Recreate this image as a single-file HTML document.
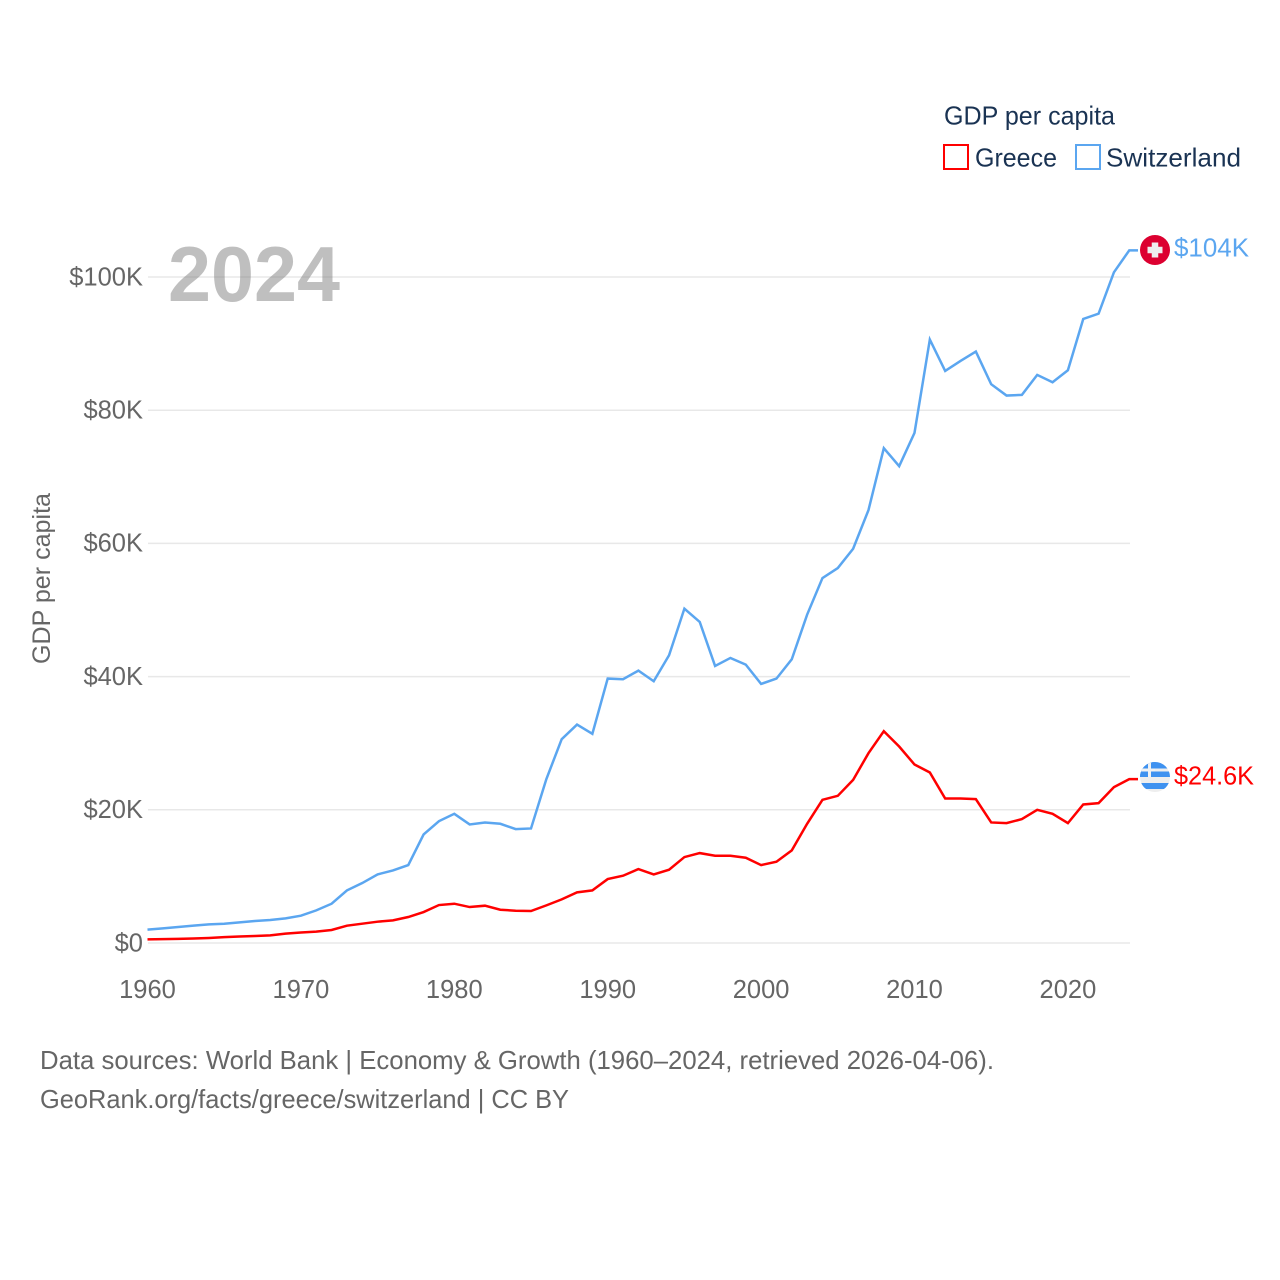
<!DOCTYPE html>
<html lang="en">
<head>
<meta charset="utf-8">
<title>GDP per capita: Greece and Switzerland</title>
<style>
  html, body { margin: 0; padding: 0; background: #fff; }
  svg { display: block; font-family: "Liberation Sans", sans-serif; }
</style>
</head>
<body>
<svg id="chart" xmlns="http://www.w3.org/2000/svg" width="1280" height="1280" viewBox="0 0 1280 1280">
  <defs>
    <clipPath id="flag-clip-gr"><circle cx="1155" cy="777" r="15"/></clipPath>
  </defs>
  <rect x="0" y="0" width="1280" height="1280" fill="#ffffff"/>
  <g id="grid"></g>
  <text x="168" y="301" font-size="78" font-weight="700" fill="#808080" fill-opacity="0.5" textLength="172" lengthAdjust="spacingAndGlyphs">2024</text>
  <g id="y-ticks"></g>
  <g id="x-ticks"></g>
  <text transform="translate(50,578.5) rotate(-90)" text-anchor="middle" font-size="25" fill="#666666" textLength="171" lengthAdjust="spacingAndGlyphs">GDP per capita</text>
  <g id="series"></g>

  <g>
    <circle cx="1155" cy="250" r="15" fill="#dc0030"/>
    <rect x="1151.75" y="242.5" width="6.5" height="15" fill="#eeeeee"/>
    <rect x="1147.5" y="246.75" width="15" height="6.5" fill="#eeeeee"/>
  </g>
  <g clip-path="url(#flag-clip-gr)">
    <rect x="1140" y="762" width="30" height="30" fill="#eeeeee"/>
    <rect x="1140" y="762" width="30" height="6.5" fill="#3f92f0"/>
    <rect x="1140" y="771.5" width="30" height="5.5" fill="#3f92f0"/>
    <rect x="1140" y="783" width="30" height="6" fill="#3f92f0"/>
    <rect x="1140" y="762" width="15" height="15" fill="#3f92f0"/>
    <rect x="1148" y="762" width="3" height="15" fill="#f2f2f2"/>
    <rect x="1140" y="768.5" width="15" height="3" fill="#f2f2f2"/>
  </g>

  <text x="1174" y="256.5" font-size="26" fill="#5ba6f0" textLength="75" lengthAdjust="spacingAndGlyphs">$104K</text>
  <text x="1174" y="784.5" font-size="26" fill="#ff0000" textLength="80" lengthAdjust="spacingAndGlyphs">$24.6K</text>

  <g>
    <text x="944" y="124.5" font-size="26" fill="#1a3353" textLength="171" lengthAdjust="spacingAndGlyphs">GDP per capita</text>
    <rect x="944" y="145" width="24" height="24" fill="none" stroke="#ff0000" stroke-width="2"/>
    <text x="975" y="166.5" font-size="26" fill="#1a3353" textLength="82" lengthAdjust="spacingAndGlyphs">Greece</text>
    <rect x="1076" y="145" width="24" height="24" fill="none" stroke="#5ba6f0" stroke-width="2"/>
    <text x="1106" y="166.5" font-size="26" fill="#1a3353" textLength="135" lengthAdjust="spacingAndGlyphs">Switzerland</text>
  </g>

  <text x="40" y="1069" font-size="26" fill="#666666" textLength="954" lengthAdjust="spacingAndGlyphs">Data sources: World Bank | Economy &amp; Growth (1960–2024, retrieved 2026-04-06).</text>
  <text x="40" y="1108" font-size="26" fill="#666666" textLength="529" lengthAdjust="spacingAndGlyphs">GeoRank.org/facts/greece/switzerland | CC BY</text>
</svg>

<script>
const startYear = 1960;
const yTickValues = [0, 20, 40, 60, 80, 100];
const yTickLabels = ['$0', '$20K', '$40K', '$60K', '$80K', '$100K'];
const xTickValues = [1960, 1970, 1980, 1990, 2000, 2010, 2020];
const xTickLabels = ['1960', '1970', '1980', '1990', '2000', '2010', '2020'];
const greeceValues = [
  0.55, 0.58, 0.62, 0.68, 0.76, 0.88, 0.97, 1.05, 1.15, 1.4,
  1.57, 1.7, 1.95, 2.6, 2.9, 3.2, 3.4, 3.9, 4.65, 5.7,
  5.9, 5.4, 5.6, 5.0, 4.85, 4.8, 5.65, 6.55, 7.6, 7.9,
  9.6, 10.1, 11.1, 10.3, 11.0, 12.9, 13.5, 13.1, 13.1, 12.8,
  11.7, 12.2, 13.9, 17.9, 21.5, 22.1, 24.5, 28.5, 31.8, 29.5,
  26.8, 25.6, 21.7, 21.7, 21.6, 18.1, 18.0, 18.6, 20.0, 19.4,
  18.0, 20.8, 21.0, 23.4, 24.6
];
const switzerlandValues = [
  2.0, 2.2, 2.4, 2.6, 2.8, 2.9, 3.1, 3.3, 3.45, 3.7,
  4.1, 4.9, 5.9, 7.9, 9.0, 10.3, 10.9, 11.7, 16.3, 18.3,
  19.4, 17.8, 18.1, 17.9, 17.1, 17.2, 24.6, 30.6, 32.8, 31.4,
  39.7, 39.6, 40.9, 39.3, 43.2, 50.2, 48.2, 41.6, 42.8, 41.8,
  38.9, 39.7, 42.6, 49.3, 54.8, 56.3, 59.2, 65.0, 74.3, 71.6,
  76.6, 90.6, 85.9, 87.4, 88.8, 83.9, 82.2, 82.3, 85.3, 84.2,
  86.0, 93.7, 94.5, 100.7, 104.0
];

const svgNS = 'http://www.w3.org/2000/svg';
function xScale(year) { return 147.5 + (year - 1960) * 15.34; }
function yScale(value) { return 943 - value * 6.66; }

const gridGroup = document.getElementById('grid');
const yTickGroup = document.getElementById('y-ticks');
const xTickGroup = document.getElementById('x-ticks');
const seriesGroup = document.getElementById('series');

yTickValues.forEach(function (value, i) {
  const line = document.createElementNS(svgNS, 'line');
  
  
  line.setAttribute('x1', 148);
  line.setAttribute('x2', 1130);
  line.setAttribute('y1', yScale(value));
  line.setAttribute('y2', yScale(value));
  line.setAttribute('stroke', '#e8e8e8');
  line.setAttribute('stroke-width', 1.5);
  gridGroup.appendChild(line);

  const label = document.createElementNS(svgNS, 'text');
  
  
  label.setAttribute('x', 143);
  label.setAttribute('y', yScale(value) + 8.3);
  label.setAttribute('text-anchor', 'end');
  label.setAttribute('font-size', 25.5);
  label.setAttribute('fill', '#666666');
  label.textContent = yTickLabels[i];
  yTickGroup.appendChild(label);
});

xTickValues.forEach(function (year, i) {
  const label = document.createElementNS(svgNS, 'text');
  
  
  label.setAttribute('x', xScale(year));
  label.setAttribute('y', 998);
  label.setAttribute('text-anchor', 'middle');
  label.setAttribute('font-size', 25.5);
  label.setAttribute('fill', '#666666');
  label.textContent = xTickLabels[i];
  xTickGroup.appendChild(label);
});

function buildPoints(values) {
  const pts = values.map(function (value, i) {
    return xScale(startYear + i).toFixed(2) + ',' + yScale(value).toFixed(2);
  });
  const lastValue = values[values.length - 1];
  pts.push('1138,' + yScale(lastValue).toFixed(2));
  return pts.join(' ');
}

const greeceLine = document.createElementNS(svgNS, 'polyline');


greeceLine.setAttribute('points', buildPoints(greeceValues));
greeceLine.setAttribute('fill', 'none');
greeceLine.setAttribute('stroke', '#ff0000');
greeceLine.setAttribute('stroke-width', 2.5);
seriesGroup.appendChild(greeceLine);

const switzerlandLine = document.createElementNS(svgNS, 'polyline');


switzerlandLine.setAttribute('points', buildPoints(switzerlandValues));
switzerlandLine.setAttribute('fill', 'none');
switzerlandLine.setAttribute('stroke', '#5ba6f0');
switzerlandLine.setAttribute('stroke-width', 2.5);
seriesGroup.appendChild(switzerlandLine);
</script>
</body>
</html>
